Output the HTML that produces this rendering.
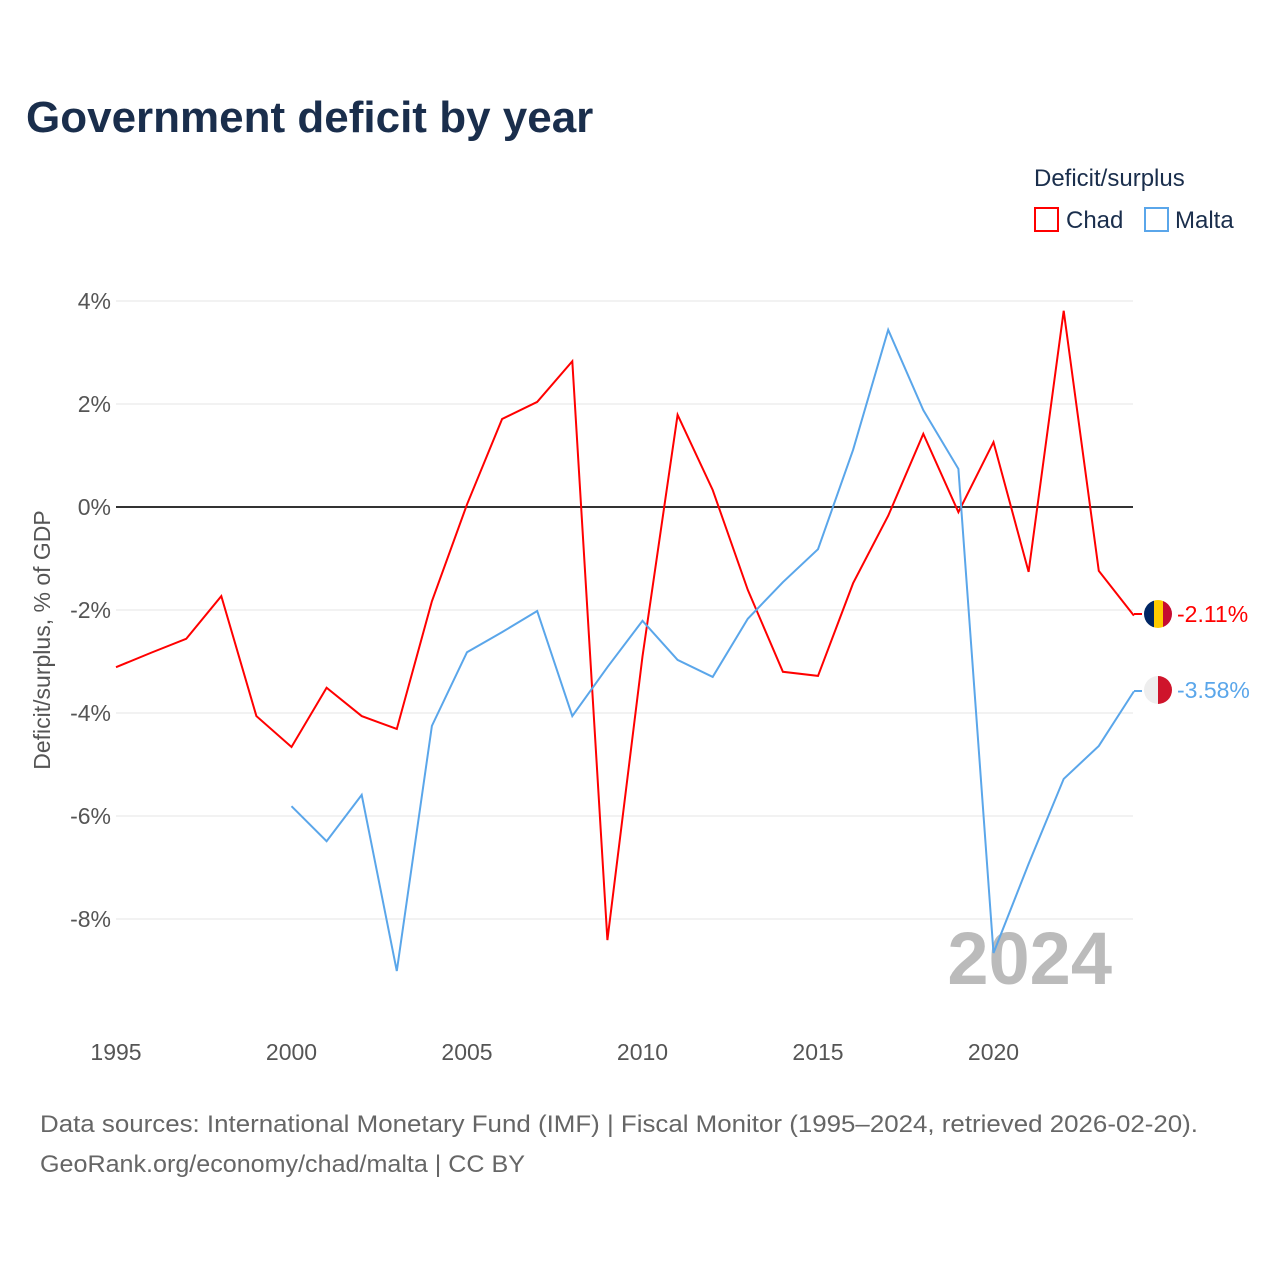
<!DOCTYPE html>
<html><head><meta charset="utf-8">
<style>
body{margin:0;background:#fff;font-family:"Liberation Sans",sans-serif;}
svg text{font-family:"Liberation Sans",sans-serif;}
</style></head>
<body>
<svg id="chart" width="1280" height="1280" viewBox="0 0 1280 1280">
<text x="26" y="132" font-size="44" font-weight="bold" fill="#1a2e4c">Government deficit by year</text>
<text x="1034" y="186" font-size="24" fill="#1a2e4c">Deficit/surplus</text>
<g><rect x="1035" y="208" width="23" height="23" fill="none" stroke="#ff0000" stroke-width="2"/><text x="1066" y="228" font-size="24" fill="#1a2e4c">Chad</text></g>
<g><rect x="1145" y="208" width="23" height="23" fill="none" stroke="#5aa6ea" stroke-width="2"/><text x="1175" y="228" font-size="24" fill="#1a2e4c">Malta</text></g>
<g id="grid"></g>
<g id="yticks"></g>
<g id="xticks"></g>
<text transform="translate(50,640) rotate(-90)" text-anchor="middle" font-size="23" fill="#555">Deficit/surplus, % of GDP</text>
<text x="1112" y="984" text-anchor="end" font-size="74" font-weight="bold" fill="#bbb">2024</text>
<g id="series"></g>
<line x1="1134" y1="614" x2="1142" y2="614" stroke="#ff0000" stroke-width="2"/>
<line x1="1134" y1="691" x2="1142" y2="691" stroke="#5aa6ea" stroke-width="2"/>
<g>
<clipPath id="c1"><circle cx="1158" cy="614" r="14"/></clipPath>
<g clip-path="url(#c1)"><rect x="1144" y="600" width="10" height="28" fill="#002664"/><rect x="1154" y="600" width="9" height="28" fill="#fecb00"/><rect x="1163" y="600" width="10" height="28" fill="#c60c30"/></g>
<text x="1177" y="622" font-size="23" fill="#ff0000">-2.11%</text></g>
<g>
<clipPath id="c2"><circle cx="1158" cy="690" r="14"/></clipPath>
<g clip-path="url(#c2)"><rect x="1144" y="676" width="14" height="28" fill="#eee"/><rect x="1158" y="676" width="15" height="28" fill="#cf142b"/></g>
<text x="1177" y="698" font-size="23" fill="#5aa6ea">-3.58%</text></g>
<text x="40" y="1132" font-size="24" fill="#666" textLength="1158" lengthAdjust="spacingAndGlyphs">Data sources: International Monetary Fund (IMF) | Fiscal Monitor (1995–2024, retrieved 2026-02-20).</text>
<text x="40" y="1172" font-size="24" fill="#666" textLength="485" lengthAdjust="spacingAndGlyphs">GeoRank.org/economy/chad/malta | CC BY</text>
</svg>
<script>
const years=[1995,1996,1997,1998,1999,2000,2001,2002,2003,2004,2005,2006,2007,2008,2009,2010,2011,2012,2013,2014,2015,2016,2017,2018,2019,2020,2021,2022,2023,2024];
const chad=[-3.11,-2.83,-2.56,-1.73,-4.06,-4.66,-3.51,-4.06,-4.31,-1.83,0.05,1.71,2.04,2.83,-8.41,-2.9,1.79,0.33,-1.61,-3.2,-3.28,-1.48,-0.17,1.42,-0.1,1.26,-1.26,3.81,-1.24,-2.11];
const maltaYears=[2000,2001,2002,2003,2004,2005,2006,2007,2008,2009,2010,2011,2012,2013,2014,2015,2016,2017,2018,2019,2020,2021,2022,2023,2024];
const malta=[-5.81,-6.49,-5.59,-9.01,-4.25,-2.82,-2.43,-2.02,-4.06,-3.11,-2.21,-2.97,-3.30,-2.17,-1.46,-0.82,1.11,3.44,1.88,0.74,-8.66,-6.93,-5.28,-4.64,-3.58];
const yTicks=[4,2,0,-2,-4,-6,-8];
const xTicks=[1995,2000,2005,2010,2015,2020];
const NS="http://www.w3.org/2000/svg";
const x=v=>116+(v-1995)*35.1;
const y=v=>507-v*51.5;
function mk(t,a,p){const e=document.createElementNS(NS,t);for(const k in a)e.setAttribute(k,a[k]);p.appendChild(e);return e;}
const g=document.getElementById('grid'),yt=document.getElementById('yticks'),xt=document.getElementById('xticks'),s=document.getElementById('series');
yTicks.forEach(v=>{
 const l=mk('line',{x1:116,x2:1133,y1:y(v),y2:y(v),stroke:v===0?'#333':'#e6e6e6','stroke-width':v===0?2:1},g);
 
 
 const t=mk('text',{x:111,y:y(v)+8,'text-anchor':'end','font-size':23,fill:'#555'},yt);
 t.textContent=v+'%';
 
 
});
xTicks.forEach(v=>{
 const t=mk('text',{x:x(v),y:1060,'text-anchor':'middle','font-size':23,fill:'#555'},xt);
 t.textContent=v;
 
 
});
function line(xs,vs,c,n){
 const p=mk('polyline',{points:vs.map((v,i)=>x(xs[i])+','+y(v)).join(' '),fill:'none',stroke:c,'stroke-width':2},s);
 
 
}
line(years,chad,'#ff0000','chad-line');
line(maltaYears,malta,'#5aa6ea','malta-line');
</script>
</body></html>
